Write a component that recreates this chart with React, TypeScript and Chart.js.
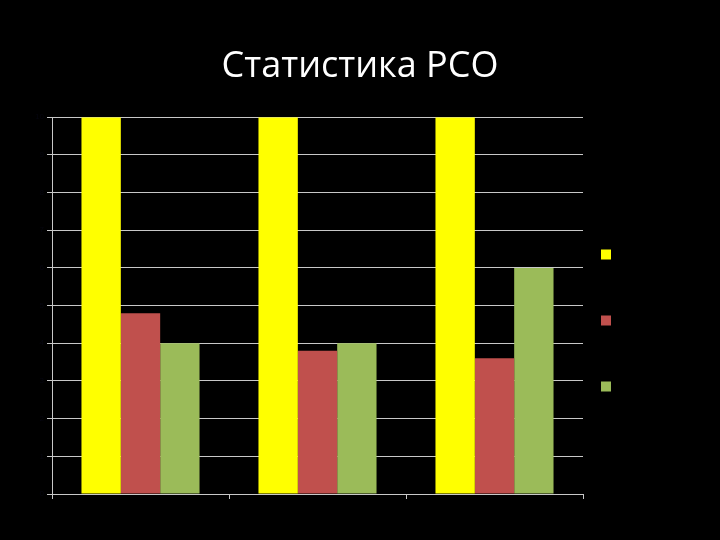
import React, { useEffect, useRef } from "react";
import { Chart, registerables } from "chart.js";

Chart.register(...registerables);

const TITLE = "Статистика РСО";
const categories = ["Категория 1", "Категория 2", "Категория 3"];
const seriesNames = ["Ряд 1", "Ряд 2", "Ряд 3"];
const series1 = [10, 10, 10];
const series2 = [4.8, 3.8, 3.6];
const series3 = [4.0, 4.0, 6.0];
const seriesColors = ["#FFFF00", "#C0504D", "#9BBB59"];
const yTicks = [0, 1, 2, 3, 4, 5, 6, 7, 8, 9, 10];

export default function App() {
  const ref = useRef<HTMLCanvasElement | null>(null);
  useEffect(() => {
    if (!ref.current) return;
    const values = [series1, series2, series3];
    const chart = new Chart(ref.current, {
      type: "bar",
      data: {
        labels: categories,
        datasets: seriesNames.map((name, i) => ({
          label: name,
          data: values[i],
          backgroundColor: seriesColors[i],
          borderWidth: 0,
          categoryPercentage: 0.667,
          barPercentage: 1.0,
        })),
      },
      options: {
        responsive: false,
        animation: false,
        layout: { padding: 0 },
        plugins: {
          title: {
            display: true,
            text: TITLE,
            color: "#ffffff",
            font: { family: "Open Sans", size: 36, weight: "normal" },
            padding: { top: 45, bottom: 29 },
          },
          legend: {
            display: true,
            position: "right",
            align: "center",
            fullSize: false,
            maxWidth: 137,
            title: {
              display: true,
              text: " ",
              color: "#000000",
              font: { size: 10 },
              padding: 9,
            },
            labels: {
              color: "#000000",
              boxWidth: 10,
              boxHeight: 10,
              padding: 18,
              font: { family: "Lato", size: 48 },
            },
          },
          tooltip: { enabled: false },
        },
        scales: {
          x: {
            offset: true,
            grid: {
              display: true,
              offset: true,
              drawOnChartArea: false,
              drawTicks: true,
              tickLength: 5,
              color: "#c8c8c8",
            },
            border: { display: true, color: "#c8c8c8" },
            ticks: { color: "#000000", font: { size: 12 } },
            afterFit: (s: any) => {
              s.height = 46;
            },
          },
          y: {
            min: 0,
            max: 10,
            afterBuildTicks: (s: any) => {
              s.ticks = yTicks.map((v) => ({ value: v }));
            },
            grid: {
              color: "#c8c8c8",
              tickLength: 5,
            },
            border: { display: true, color: "#c8c8c8" },
            ticks: { color: "#05050f", font: { size: 8 } },
            afterFit: (s: any) => {
              s.width = 52;
            },
          },
        },
      },
    });
    return () => chart.destroy();
  }, []);
  return (
    <div
      style={{
        position: "fixed",
        left: 0,
        top: 0,
        width: 720,
        height: 540,
        background: "#000000",
      }}
    >
      <canvas ref={ref} width={720} height={540} />
    </div>
  );
}
